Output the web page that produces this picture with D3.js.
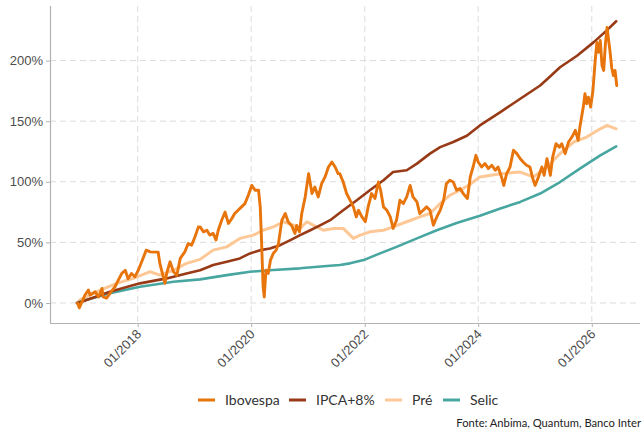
<!DOCTYPE html>
<html>
<head>
<meta charset="utf-8">
<script src="https://cdn.jsdelivr.net/npm/d3@7"></script>
<style>
    body { margin: 0; background: #fff; }
    svg { font-family: Lato, "Open Sans", sans-serif; }
    .grid line { stroke: #dcdcdc; stroke-dasharray: 6,4; }
</style>
</head>
<body>
<div id="chart"></div>
<script>
// Dates are decimal years, values are accumulated return in %
var iboDates = [2016.94, 2016.97, 2017.07, 2017.13, 2017.16, 2017.25, 2017.31, 2017.37, 2017.39, 2017.45,
    2017.51, 2017.60, 2017.66, 2017.72, 2017.78, 2017.83, 2017.89, 2017.95, 2018.01, 2018.07,
    2018.15, 2018.22, 2018.30, 2018.36, 2018.39, 2018.48, 2018.51, 2018.57, 2018.63, 2018.69,
    2018.75, 2018.83, 2018.89, 2018.95, 2019.01, 2019.07, 2019.10, 2019.16, 2019.22, 2019.27,
    2019.33, 2019.38, 2019.42, 2019.48, 2019.54, 2019.60, 2019.66, 2019.71, 2019.77, 2019.83,
    2019.89, 2019.95, 2020.01, 2020.07, 2020.13, 2020.16, 2020.18, 2020.21, 2020.23, 2020.26,
    2020.30, 2020.34, 2020.39, 2020.44, 2020.48, 2020.54, 2020.60, 2020.65, 2020.71, 2020.77,
    2020.80, 2020.85, 2020.89, 2020.95, 2021.01, 2021.07, 2021.12, 2021.18, 2021.24, 2021.30,
    2021.36, 2021.42, 2021.48, 2021.53, 2021.56, 2021.62, 2021.68, 2021.74, 2021.80, 2021.85,
    2021.89, 2021.95, 2022.01, 2022.06, 2022.12, 2022.18, 2022.24, 2022.28, 2022.33, 2022.39,
    2022.45, 2022.50, 2022.56, 2022.62, 2022.68, 2022.74, 2022.80, 2022.85, 2022.92, 2022.97,
    2023.03, 2023.09, 2023.15, 2023.21, 2023.27, 2023.33, 2023.39, 2023.44, 2023.50, 2023.56,
    2023.62, 2023.68, 2023.74, 2023.81, 2023.86, 2023.91, 2023.96, 2024.00, 2024.06, 2024.12,
    2024.18, 2024.24, 2024.30, 2024.35, 2024.41, 2024.45, 2024.50, 2024.56, 2024.62, 2024.68,
    2024.74, 2024.79, 2024.85, 2024.91, 2024.96, 2025.00, 2025.06, 2025.12, 2025.16, 2025.21,
    2025.27, 2025.31, 2025.37, 2025.43, 2025.47, 2025.53, 2025.59, 2025.65, 2025.71, 2025.76,
    2025.79, 2025.85, 2025.88, 2025.91, 2025.94, 2025.98, 2026.02, 2026.06, 2026.09, 2026.12,
    2026.15, 2026.18, 2026.21, 2026.24, 2026.27, 2026.29, 2026.32, 2026.35, 2026.38, 2026.41,
    2026.44];
var iboValues = [0, -4, 6.6, 10.7, 6.6, 9.3, 5, 12, 5, 4,
    8, 13.4, 19, 24.4, 27, 20, 24.4, 21.6, 27, 34,
    43.6, 42.2, 42, 42, 32.7, 16.2, 24.4, 34, 25.8, 23,
    36.8, 42.2, 49, 47.7, 54.6, 62.8, 62.8, 58.7, 60, 56,
    57.4, 52, 60, 68.3, 75, 65.6, 69.7, 73.8, 76.5, 79.3,
    82, 88.9, 97, 93, 93, 79, 54.6, 13.4, 5, 27,
    24.4, 35.4, 41, 43.6, 49, 68.3, 73.8, 67, 64, 57.4,
    64, 58.7, 73.8, 87.5, 106.7, 90.3, 95.7, 87.5, 98.5, 104,
    112.2, 116.3, 112, 106.7, 106.7, 99.8, 90.3, 84.8, 79.3, 71,
    76.5, 71, 67, 79.3, 90.3, 86.2, 99.8, 93, 79.3, 76.5,
    71, 61.5, 68.3, 84.8, 82, 87.5, 97, 87.5, 83.4, 73.8,
    76.5, 79.3, 76.5, 64.2, 71, 76.5, 84.8, 98.5, 101.2, 99.8,
    93, 94.4, 90, 86.2, 104, 112.2, 121.8, 116.3, 112.2, 115,
    110.9, 113.6, 109.5, 112.2, 104, 97, 106.7, 112.2, 126, 123.2,
    119, 116.3, 113.6, 112.2, 102.6, 97, 104, 112.2, 105.3, 119,
    105.3, 120.4, 131.4, 128.6, 131.4, 123.2, 132.8, 136.9, 142.4, 134.2,
    145.1, 161.6, 172.6, 164.4, 169.8, 161.6, 175.3, 200, 215, 206.8,
    216.5, 195.9, 191.8, 213.7, 227.4, 219.2, 208.2, 194.5, 187.7, 191.8,
    179.4];

var ipcaDates = [2016.93, 2017.01, 2017.51, 2018.04, 2018.51, 2018.86, 2019.10, 2019.33, 2019.57, 2019.80,
    2019.98, 2020.16, 2020.33, 2020.51, 2020.69, 2020.86, 2021.04, 2021.22, 2021.39, 2021.62,
    2021.86, 2022.09, 2022.33, 2022.50, 2022.74, 2022.92, 2023.15, 2023.33, 2023.56, 2023.80,
    2024.03, 2024.39, 2024.74, 2025.09, 2025.27, 2025.44, 2025.74, 2026.03, 2026.26, 2026.43];
var ipcaValues = [0, 1, 9.3, 16.2, 20.3, 24.4, 27, 31.3, 34, 36.8,
    40.9, 43.6, 45, 47.7, 51.9, 56, 60, 64.2, 68.3, 76.5,
    84.8, 93, 101.2, 108, 109.5, 115, 123.2, 128.6, 132.8, 138,
    146.5, 157.4, 168.5, 179.4, 187, 194.5, 204, 215, 224.7, 232.4];

var preDates = [2016.93, 2016.98, 2017.34, 2017.63, 2017.92, 2018.22, 2018.39, 2018.63, 2018.86, 2019.10,
    2019.33, 2019.57, 2019.80, 2020.04, 2020.21, 2020.39, 2020.57, 2020.74, 2020.86, 2020.98,
    2021.09, 2021.27, 2021.45, 2021.62, 2021.80, 2021.92, 2022.09, 2022.33, 2022.50, 2022.74,
    2022.97, 2023.15, 2023.33, 2023.50, 2023.68, 2023.86, 2024.03, 2024.39, 2024.74, 2024.97,
    2025.21, 2025.44, 2025.68, 2025.91, 2026.15, 2026.27, 2026.43];
var preValues = [0, 2.5, 10.7, 16.2, 20.3, 25.8, 23, 27, 32.7, 36,
    43.6, 46.3, 53.3, 56, 60, 62.8, 67, 64.2, 61.5, 67,
    64.2, 60, 61.5, 61.5, 53.3, 56, 58.7, 60, 62.8, 67,
    71, 73.8, 82, 88.9, 93, 98, 104, 106.7, 108, 104,
    112.2, 123.2, 132.8, 136.9, 143.7, 146.5, 143.7];

var selicDates = [2016.93, 2016.98, 2017.51, 2018.04, 2018.63, 2019.10, 2019.57, 2019.98, 2020.39, 2020.86,
    2021.33, 2021.56, 2021.74, 2021.98, 2022.27, 2022.56, 2022.92, 2023.27, 2023.62, 2024.03,
    2024.39, 2024.74, 2025.09, 2025.44, 2025.79, 2026.15, 2026.43];
var selicValues = [0, 1, 8, 13.4, 17.5, 19.5, 23, 25.8, 27.2, 28.6,
    30.5, 31.3, 32.7, 35.4, 40.9, 46.3, 53.3, 60, 66, 72,
    78, 83.4, 90.3, 99.8, 110.9, 121.8, 129.2];

var seriesNames = ["Ibovespa", "IPCA+8%", "Pré", "Selic"];
var seriesColors = ["#e8740c", "#983a16", "#fec896", "#48a6a0"];
var yTicks = [0, 50, 100, 150, 200];
var xTickYears = [2018, 2020, 2022, 2024, 2026];
var sourceText = "Fonte: Anbima, Quantum, Banco Inter";

// decimal year -> Date
function toDate(t) {
    var y = Math.floor(t);
    var start = new Date(y, 0, 1), end = new Date(y + 1, 0, 1);
    return new Date(+start + (t - y) * (end - start));
}

function zipSeries(dates, values) {
    return dates.map(function (d, i) { return { date: toDate(d), value: values[i] }; });
}

function main() {
    var width = 644, height = 430;
    var margin = { left: 50, right: 4, top: 6, bottom: 107 };

    var svg = d3.select("#chart").append("svg")
        .attr("width", width)
        .attr("height", height);

    var x = d3.scaleTime()
        .domain([toDate(2016.455), toDate(2026.85)])
        .range([margin.left, width - margin.right]);

    var y = d3.scaleLinear()
        .domain([-16.5, 245])
        .range([height - margin.bottom, margin.top]);

    var xTicks = xTickYears.map(function (yr) { return new Date(yr, 0, 1); });

    // Grid
    svg.append("g").attr("class", "grid")
        .selectAll("line.h").data(yTicks).enter().append("line")
        .attr("x1", margin.left).attr("x2", width - margin.right)
        .attr("y1", function (d) { return y(d); })
        .attr("y2", function (d) { return y(d); });

    svg.append("g").attr("class", "grid")
        .selectAll("line.v").data(xTicks).enter().append("line")
        .attr("x1", function (d) { return x(d); })
        .attr("x2", function (d) { return x(d); })
        .attr("y1", margin.top).attr("y2", height - margin.bottom);

    // Axes
    var yAxis = svg.append("g")
        .attr("transform", "translate(" + margin.left + ",0)")
        .call(d3.axisLeft(y).tickValues(yTicks).tickSize(4).tickPadding(3)
            .tickFormat(function (d) { return d + "%"; }));

    var xAxis = svg.append("g")
        .attr("transform", "translate(0," + (height - margin.bottom) + ")")
        .call(d3.axisBottom(x).tickValues(xTicks).tickSize(4)
            .tickFormat(d3.timeFormat("%m/%Y")));

    [xAxis, yAxis].forEach(function (ax) {
        ax.select(".domain").attr("stroke", "#b3b3b3").attr("stroke-width", 1.2);
        ax.selectAll(".tick line").attr("stroke", "#b3b3b3");
        ax.selectAll(".tick text").attr("fill", "#4d4d4d").style("font-size", "13px");
    });
    yAxis.select(".domain").attr("d", "M0.5," + margin.top + "V" + (height - margin.bottom));
    xAxis.select(".domain").attr("d", "M" + margin.left + ",0.5H" + (width - margin.right));

    xAxis.selectAll(".tick text")
        .attr("text-anchor", "end")
        .attr("dy", null)
        .attr("y", 0)
        .attr("transform", "translate(4,12) rotate(-45)");

    // Lines
    var line = d3.line()
        .x(function (d) { return x(d.date); })
        .y(function (d) { return y(d.value); });

    var data = [
        zipSeries(iboDates, iboValues),
        zipSeries(ipcaDates, ipcaValues),
        zipSeries(preDates, preValues),
        zipSeries(selicDates, selicValues)
    ];
    var widths = [2.9, 2.6, 3, 2.6];
    var order = [2, 3, 1, 0];

    order.forEach(function (i) {
        svg.append("path")
            .datum(data[i])
            .attr("fill", "none")
            .attr("stroke", seriesColors[i])
            .attr("stroke-width", widths[i])
            .attr("stroke-linejoin", "round")
            .attr("stroke-linecap", "round")
            .attr("d", line);
    });

    // Legend
    var legendX = [198, 289, 385, 443];
    var legend = svg.append("g").attr("transform", "translate(0,400)");
    seriesNames.forEach(function (name, i) {
        var g = legend.append("g").attr("transform", "translate(" + legendX[i] + ",0)");
        g.append("line")
            .attr("x1", 0).attr("x2", 17)
            .attr("stroke", seriesColors[i])
            .attr("stroke-width", 3);
        g.append("text")
            .attr("x", 27).attr("dy", "0.35em")
            .attr("fill", "#333")
            .style("font-size", "14px")
            .text(name);
    });

    svg.append("text")
        .attr("x", 641).attr("y", 423).attr("dy", "0.35em")
        .attr("text-anchor", "end")
        .attr("fill", "#222")
        .style("font-size", "11.2px")
        .text(sourceText);
}

main();
</script>
</body>
</html>
